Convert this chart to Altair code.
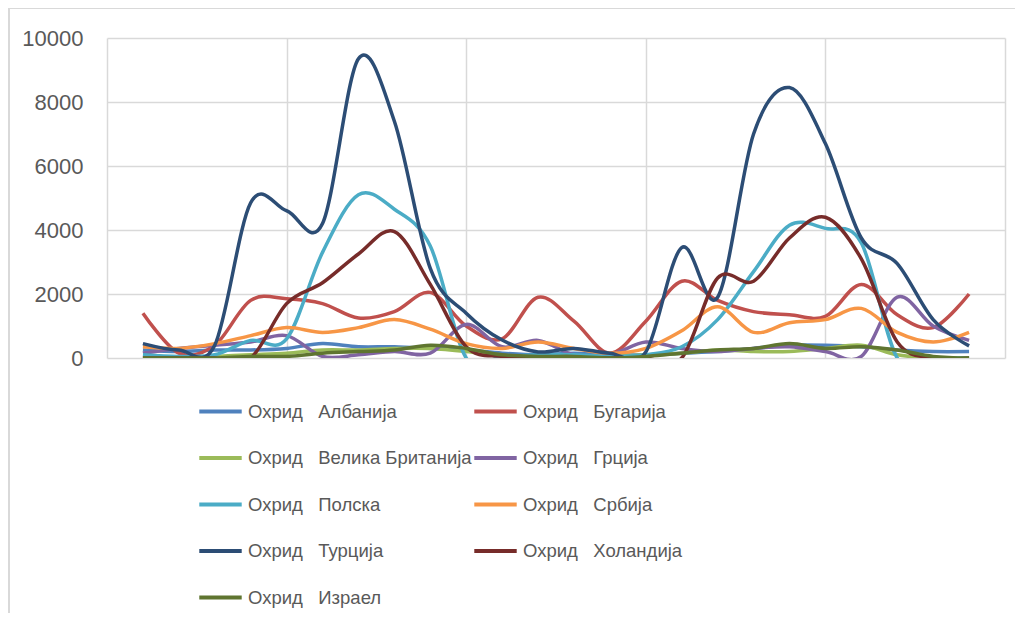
import altair as alt
import pandas as pd

# category positions (24 monthly points, x axis has no labels)
idx = list(range(1, 25))

countries = ["Албанија", "Бугарија", "Велика Британија", "Грција", "Полска",
             "Србија", "Турција", "Холандија", "Израел"]
colors = ["#4F81BD", "#C0504D", "#9BBB59", "#8064A2", "#4BACC6",
          "#F79646", "#2C4D75", "#772C2A", "#5F7530"]

albanija = [250, 200, 250, 250, 300, 450, 350, 350, 300, 250, 150, 100,
            150, 100, 100, 150, 200, 300, 400, 400, 350, 250, 200, 200]
bugarija = [1400, 150, 400, 1800, 1850, 1700, 1250, 1450, 2050, 1000, 600, 1900,
            1150, 150, 1150, 2400, 1800, 1450, 1350, 1300, 2300, 1350, 950, 2000]
britanija = [0, 0, 50, 100, 150, 250, 250, 300, 300, 200, 50, 50,
             50, 50, 100, 150, 250, 200, 200, 300, 400, 100, 0, 0]
grcija = [150, 300, 400, 500, 700, 50, 100, 200, 150, 1050, 350, 550,
          100, 100, 500, 300, 200, 300, 350, 200, 50, 1900, 1000, 550]
polska = [100, 50, 100, 550, 600, 3300, 5100, 4650, 3500, 0, 50, 100,
          100, 50, 100, 350, 1200, 2700, 4150, 4050, 3600, 0, 0, 0]
srbija = [350, 300, 450, 700, 950, 800, 950, 1200, 900, 450, 300, 500,
          300, 150, 300, 850, 1600, 800, 1100, 1200, 1550, 800, 500, 800]
turcija = [450, 250, 400, 4850, 4600, 4200, 9350, 7400, 2800, 1400, 560, 190,
           300, 150, 190, 3450, 1900, 7000, 8450, 6700, 3750, 2950, 1200, 380]
holandija = [0, 0, 0, 0, 1700, 2350, 3250, 3950, 2300, 350, 50, 0,
             0, 0, 0, 0, 2500, 2400, 3750, 4400, 3100, 500, 0, 0]
izrael = [0, 0, 0, 50, 50, 150, 200, 250, 400, 300, 100, 50,
          50, 0, 50, 150, 250, 300, 450, 300, 350, 250, 50, 0]

series = [albanija, bugarija, britanija, grcija, polska, srbija, turcija, holandija, izrael]

SP = "\u00a0\u00a0\u00a0"
labels = ["Охрид" + SP + c for c in countries]

rows = []
for order, (lab, vals) in enumerate(zip(labels, series)):
    for i, v in zip(idx, vals):
        rows.append({"series": lab, "order": order, "idx": i, "value": v})
df = pd.DataFrame(rows)

FONT = "Liberation Sans"
GRID = "#D9D9D9"
TXT = "#595959"

lines = alt.Chart(df).mark_line(interpolate="cardinal", strokeWidth=3.5, clip=True).encode(
    x=alt.X("idx:Q", scale=alt.Scale(domain=[0, 25], nice=False, zero=False),
            axis=alt.Axis(values=[0, 5, 10, 15, 20, 25], labels=False, ticks=False,
                          domain=False, grid=True, gridColor=GRID, gridWidth=1.5, title=None)),
    y=alt.Y("value:Q", scale=alt.Scale(domain=[0, 10000], nice=False),
            axis=alt.Axis(values=[0, 2000, 4000, 6000, 8000, 10000], format="d", ticks=False,
                          domain=False, grid=True, gridColor=GRID, gridWidth=1.5, title=None,
                          labelFont=FONT, labelFontSize=22, labelColor=TXT, labelPadding=24)),
    color=alt.Color("series:N", scale=alt.Scale(domain=labels, range=colors),
                    legend=alt.Legend(title=None, orient="none", legendX=90, legendY=350,
                                      direction="horizontal", columns=2,
                                      symbolType="stroke", symbolStrokeWidth=4,
                                      symbolSize=1800, labelFont=FONT, labelFontSize=18.5,
                                      labelColor=TXT, labelLimit=500, rowPadding=13.5,
                                      columnPadding=-6, labelOffset=4)),
    order=alt.Order("order:Q"),
)

border_top = alt.Chart(df).mark_rule(color=GRID, strokeWidth=2).encode(
    x=alt.value(-99), x2=alt.value(920), y=alt.value(-30))
border_left = alt.Chart(df).mark_rule(color=GRID, strokeWidth=2).encode(
    x=alt.value(-98), y=alt.value(-30), y2=alt.value(600))

chart = alt.layer(border_top, border_left, lines).properties(
    width=898, height=320,
    autosize=alt.AutoSizeParams(type="none"),
    padding={"left": 99, "top": 30, "right": 10, "bottom": 255},
).configure_view(stroke=None)

chart.save("out.html", embed_options={"renderer": "svg", "actions": False})
